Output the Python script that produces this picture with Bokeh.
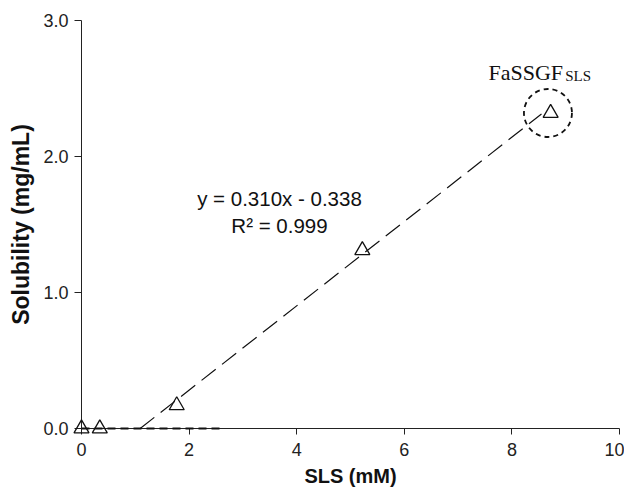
from bokeh.plotting import figure
from bokeh.models import Range1d, FixedTicker, NumeralTickFormatter
from bokeh.core.properties import value
from bokeh.embed import file_html
from bokeh.resources import INLINE

# data
sls_mM = [0.0, 0.34, 1.77, 5.22, 8.72]
solubility = [0.0, 0.0, 0.17, 1.31, 2.32]
fit_slope = 0.310
fit_intercept = -0.338
fit_x = [-fit_intercept / fit_slope, 8.55]
baseline_x = [0.0, 2.63]
baseline_y = [0.0, 0.0]
x_ticks = [0, 2, 4, 6, 8, 10]
y_ticks = [0.0, 1.0, 2.0, 3.0]
eq_text = ["y = 0.310x - 0.338", "R\u00b2 = 0.999"]
label_main = "FaSSGF"
label_sub = "SLS"

p = figure(frame_width=538, frame_height=408, output_backend="svg", toolbar_location=None,
           x_range=Range1d(0, 10), y_range=Range1d(0, 3),
           min_border_left=81, min_border_right=5, min_border_top=20, min_border_bottom=57)
p.outline_line_color = None
p.grid.visible = False
p.background_fill_color = "white"
p.border_fill_color = "white"

for ax in (p.xaxis[0], p.yaxis[0]):
    ax.axis_line_color = "#222222"
    ax.major_tick_line_color = "#222222"
    ax.minor_tick_line_color = None
    ax.major_tick_in = 0
    ax.major_label_text_font = "Liberation Sans"
    ax.major_label_text_font_size = "18px"
    ax.major_label_text_color = "#222222"
    ax.axis_label_text_font = "Liberation Sans"
    ax.axis_label_text_font_style = "bold"
    ax.axis_label_text_color = "#111111"

p.xaxis.ticker = FixedTicker(ticks=x_ticks)
p.yaxis.ticker = FixedTicker(ticks=y_ticks)
p.yaxis.formatter = NumeralTickFormatter(format="0.0")
p.xaxis.major_tick_out = 6
p.yaxis.major_tick_out = 7
p.xaxis.major_label_standoff = 8
p.yaxis.major_label_standoff = 6
p.xaxis.axis_label = "SLS (mM)"
p.yaxis.axis_label = "Solubility (mg/mL)"
p.xaxis.axis_label_text_font_size = "20px"
p.yaxis.axis_label_text_font_size = "23px"
p.xaxis.axis_label_standoff = 6
p.yaxis.axis_label_standoff = 6

# fitted line
fit_y = [fit_slope * x + fit_intercept for x in fit_x]
p.line(fit_x, fit_y, line_color="#111111", line_width=1.2, line_dash="18 8")
# baseline dashed
p.line(baseline_x, baseline_y, line_color="#111111", line_width=2, line_dash="8 5", level="overlay")

# points
p.scatter(sls_mM, solubility, marker="triangle", size=15, fill_color=None,
          line_color="#111111", line_width=1.3, level="overlay")

# dashed circle around last point
p.scatter([sls_mM[-1] - 0.05], [solubility[-1]], marker="circle", size=48, fill_color=None,
          line_color="#111111", line_width=1.8, line_dash="5 4")

# equation text
p.text([3.68, 3.68], [1.691, 1.493], text=eq_text, text_align="center",
       text_baseline="alphabetic", text_font=value("Liberation Sans"),
       text_font_size="20.5px", text_color="#111111")

# FaSSGF label
p.text([7.565], [2.618], text=[label_main], text_align="left", text_baseline="alphabetic",
       text_font=value("Liberation Serif"), text_font_size="22px", text_color="#111111")
p.text([8.99], [2.592], text=[label_sub], text_align="left", text_baseline="alphabetic",
       text_font=value("Liberation Serif"), text_font_size="15px", text_color="#111111")

open("out.html", "w").write(file_html(p, INLINE))
